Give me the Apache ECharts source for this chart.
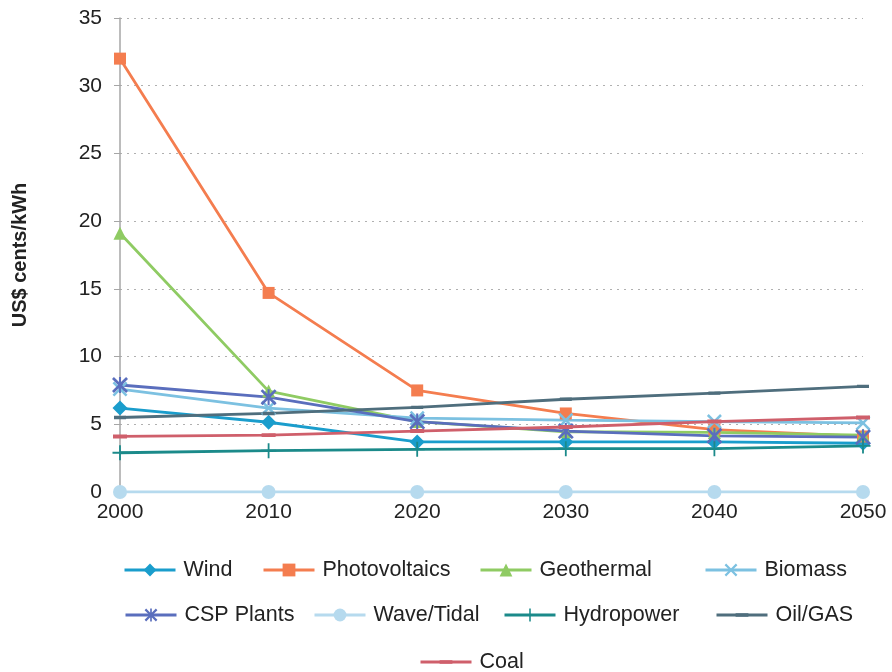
<!DOCTYPE html>
<html><head><meta charset="utf-8">
<script src="https://cdn.jsdelivr.net/npm/echarts@6/dist/echarts.min.js"></script>
<style>html,body{margin:0;padding:0;background:#fff}#c{width:892px;height:672px}</style>
</head><body><div id="c"></div>
<script>
var years = ['2000','2010','2020','2030','2040','2050'];
var yTicks = [0,5,10,15,20,25,30,35];
var seriesNames = ['Wind','Photovoltaics','Geothermal','Biomass','CSP Plants','Wave/Tidal','Hydropower','Oil/GAS','Coal'];
var wind = [6.2, 5.15, 3.7, 3.7, 3.7, 3.6];
var photovoltaics = [32.0, 14.7, 7.5, 5.8, 4.6, 4.1];
var geothermal = [19.1, 7.45, 5.2, 4.45, 4.4, 4.2];
var biomass = [7.6, 6.2, 5.45, 5.3, 5.2, 5.1];
var cspPlants = [7.9, 7.0, 5.2, 4.5, 4.15, 4.05];
var waveTidal = [0, 0, 0, 0, 0, 0];
var hydropower = [2.9, 3.05, 3.15, 3.2, 3.2, 3.4];
var oilGas = [5.5, 5.8, 6.25, 6.85, 7.3, 7.8];
var coal = [4.1, 4.2, 4.5, 4.8, 5.2, 5.5];

var FONT = 'Liberation Sans';
var X_PATH = 'path://M0,1.2L1.2,0L5,3.8L8.8,0L10,1.2L6.2,5L10,8.8L8.8,10L5,6.2L1.2,10L0,8.8L3.8,5Z';
var AST_PATH = 'path://M0,1.2L1.2,0L5,3.8L8.8,0L10,1.2L6.2,5L10,8.8L8.8,10L5,6.2L1.2,10L0,8.8L3.8,5Z M4.35,0H5.65V10H4.35Z';
var PLUS_PATH = 'path://M4.4,0H5.6V4.4H10V5.6H5.6V10H4.4V5.6H0V4.4H4.4Z';
// thin dash centred in a square box (degenerate sub-paths only widen the box)
var DASH_PATH = 'path://M0,0H12Z M0,4.3H12V7.7H0Z M0,12H12Z';

var defs = [
  {name:'Wind', data:wind, color:'#1A9DCC', symbol:'diamond', size:15},
  {name:'Photovoltaics', data:photovoltaics, color:'#F47D4F', symbol:'rect', size:12},
  {name:'Geothermal', data:geothermal, color:'#8FCB63', symbol:'triangle', size:13},
  {name:'Biomass', data:biomass, color:'#7CC1E1', symbol:X_PATH, size:15},
  {name:'CSP Plants', data:cspPlants, color:'#5A6EBD', symbol:AST_PATH, size:16},
  {name:'Wave/Tidal', data:waveTidal, color:'#B6DAEE', symbol:'circle', size:14},
  {name:'Hydropower', data:hydropower, color:'#1B8A8A', symbol:PLUS_PATH, size:15},
  {name:'Oil/GAS', data:oilGas, color:'#4F6E7D', symbol:DASH_PATH, size:12},
  {name:'Coal', data:coal, color:'#CF5F6B', symbol:DASH_PATH, size:14}
];

var series = defs.map(function(d){
  return {
    name:d.name, type:'line', data:d.data, symbol:d.symbol, symbolSize:d.size,
    showAllSymbol:true, smooth:false,
    lineStyle:{width:2.8, color:d.color}, itemStyle:{color:d.color},
    emphasis:{disabled:true}, animation:false
  };
});

// legend item positions (icon left edge, row centre) as in the reference
var legendPos = [
  {left:123, cy:570}, {left:262, cy:570}, {left:479, cy:570}, {left:704, cy:570},
  {left:124, cy:615}, {left:313, cy:615}, {left:503, cy:615}, {left:715, cy:615},
  {left:419, cy:662}
];
var legends = seriesNames.map(function(n, i){
  return {
    data:[n], left:legendPos[i].left, top:legendPos[i].cy - 12,
    itemWidth:51, itemHeight:16, itemGap:0, padding:0,
    lineStyle:{width:3},
    textStyle:{fontFamily:FONT, fontSize:21.5, color:'#222', padding:[0,0,0,3], lineHeight:24},
    selectedMode:false
  };
});

var chart = echarts.init(document.getElementById('c'));
chart.setOption({
  animation:false,
  backgroundColor:'#fff',
  grid:{left:120, right:29, top:18, bottom:180, containLabel:false},
  legend:legends,
  xAxis:{
    type:'category', data:years, boundaryGap:false,
    axisLine:{lineStyle:{color:'#A6A6A6', width:1.5}},
    axisTick:{show:true, alignWithLabel:true, length:5, lineStyle:{color:'#A6A6A6'}},
    axisLabel:{fontFamily:FONT, fontSize:21, color:'#222', margin:10},
    splitLine:{show:false}
  },
  yAxis:{
    type:'value', min:0, max:35, interval:5,
    name:'US$ cents/kWh', nameLocation:'middle', nameGap:90, nameRotate:90,
    nameTextStyle:{fontFamily:FONT, fontSize:20, fontWeight:'bold', color:'#222'},
    axisLine:{show:true, lineStyle:{color:'#A6A6A6', width:1.5}},
    axisTick:{show:true, length:6, lineStyle:{color:'#A6A6A6'}},
    axisLabel:{fontFamily:FONT, fontSize:21, color:'#222', margin:18},
    splitLine:{show:true, lineStyle:{color:'#B0B0B0', type:[2,5], width:1}}
  },
  series:series
});
</script></body></html>
